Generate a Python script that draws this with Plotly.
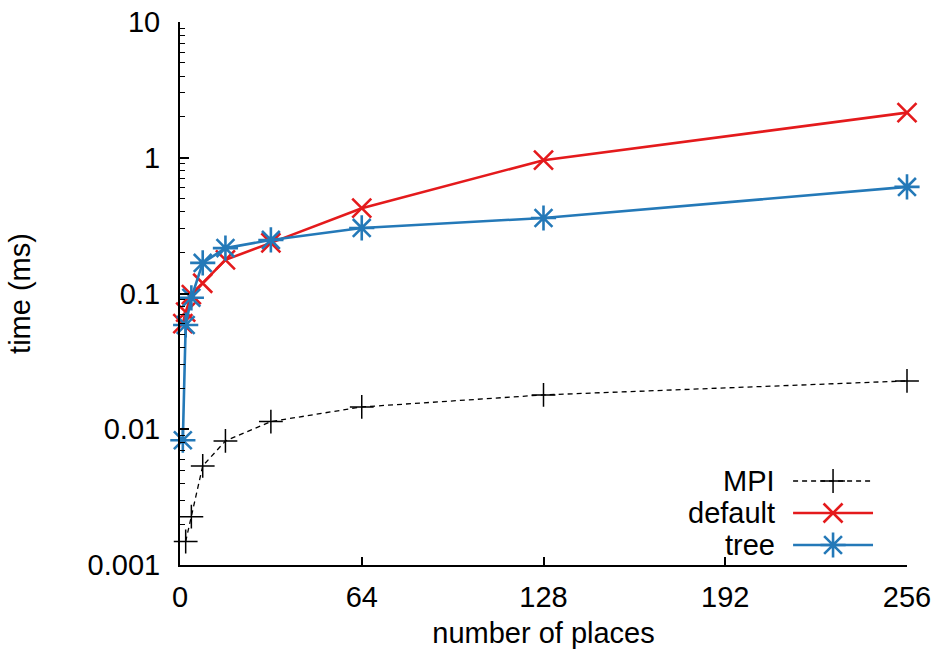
import plotly.graph_objects as go

# Communication time versus number of places
mpi_places = [2, 4, 8, 16, 32, 64, 128, 256]
mpi_time = [0.00149, 0.00227, 0.00537, 0.0082, 0.0114, 0.0146, 0.0179, 0.0227]

places = [1, 2, 4, 8, 16, 32, 64, 128, 256]
default_time = [0.060, 0.073, 0.098, 0.119, 0.177, 0.236, 0.425, 0.96, 2.15]
tree_time = [0.0083, 0.0586, 0.093, 0.168, 0.216, 0.248, 0.304, 0.36, 0.61]

x_ticks = [0, 64, 128, 192, 256]
y_ticks = [0.001, 0.01, 0.1, 1, 10]
y_tick_text = ["0.001", "0.01", "0.1", "1", "10"]
y_minor = [m * 10 ** e for e in range(-3, 1) for m in range(2, 10)]

RED = "#e41a1c"
BLUE = "#2479b8"
FONT = "Liberation Sans"
FS = 29

mpi_line = dict(color="black", width=1.3, dash="5px,4px")
mpi_mark = dict(symbol="cross-thin", size=17, line=dict(color="black", width=1.5))
def_line = dict(color=RED, width=2.6)
def_mark = dict(symbol="x-thin", size=19, color=RED, line=dict(color=RED, width=2.6))
tree_line = dict(color=BLUE, width=2.6)
tree_mark = dict(symbol="asterisk-open", size=21, color=BLUE,
                 line=dict(color=BLUE, width=2.6))

fig = go.Figure()

fig.add_trace(go.Scatter(x=mpi_places, y=mpi_time, mode="lines+markers", name="MPI",
                         line=mpi_line, marker=mpi_mark, cliponaxis=False))
fig.add_trace(go.Scatter(x=places, y=default_time, mode="lines+markers", name="default",
                         line=def_line, marker=def_mark, cliponaxis=False))
fig.add_trace(go.Scatter(x=places, y=tree_time, mode="lines+markers", name="tree",
                         line=tree_line, marker=tree_mark, cliponaxis=False))

# Key in the lower right: label on the left, line sample with marker on the right
key_rows = [("MPI", mpi_line, mpi_mark),
            ("default", def_line, def_mark),
            ("tree", tree_line, tree_mark)]
plot_l, plot_r, plot_t, plot_b = 179.5, 907.0, 22.0, 565.0
pw, ph = plot_r - plot_l, plot_b - plot_t
key_y_px = [481, 513, 545]
sx0, sx1, tx = 793, 873, 777
annotations = []
for (label, ln, mk), py in zip(key_rows, key_y_px):
    yy = (plot_b - py) / ph
    fx0, fx1 = (sx0 - plot_l) / pw, (sx1 - plot_l) / pw
    fig.add_trace(go.Scatter(
        x=[fx0, fx1], y=[yy, yy], mode="lines", line=ln,
        xaxis="x2", yaxis="y2", showlegend=False, hoverinfo="skip", cliponaxis=False,
    ))
    fig.add_trace(go.Scatter(
        x=[(fx0 + fx1) / 2], y=[yy], mode="markers", marker=mk,
        xaxis="x2", yaxis="y2", showlegend=False, hoverinfo="skip", cliponaxis=False,
    ))
    annotations.append(dict(
        text=label, x=(tx - plot_l) / pw, y=yy, xref="paper", yref="paper",
        xanchor="right", yanchor="middle", showarrow=False,
        font=dict(family=FONT, size=FS, color="black"),
    ))

fig.update_layout(
    width=940, height=657,
    margin=dict(l=plot_l, r=940 - plot_r, t=plot_t, b=657 - plot_b),
    paper_bgcolor="white", plot_bgcolor="white",
    showlegend=False,
    font=dict(family=FONT, size=FS, color="black"),
    annotations=annotations,
    xaxis=dict(
        range=[0, 256], tickvals=x_ticks, ticks="inside", ticklen=8, tickwidth=1.5,
        tickcolor="black", showline=True, linecolor="black", linewidth=2,
        showgrid=False, zeroline=False, mirror=False, automargin=False,
        ticklabelstandoff=5,
        title=dict(text="number of places", standoff=11,
                   font=dict(family=FONT, size=FS)),
        tickfont=dict(family=FONT, size=FS),
    ),
    yaxis=dict(
        type="log", range=[-3, 1], tickvals=y_ticks, ticktext=y_tick_text,
        ticks="inside", ticklen=9, tickwidth=1.5, tickcolor="black",
        minor=dict(tickvals=y_minor, ticks="inside", ticklen=5, tickwidth=1.2,
                   tickcolor="black", showgrid=False),
        showline=True, linecolor="black", linewidth=2,
        showgrid=False, zeroline=False, mirror=False, automargin=False,
        ticklabelstandoff=12,
        title=dict(text="time (ms)", standoff=48,
                   font=dict(family=FONT, size=FS)),
        tickfont=dict(family=FONT, size=FS),
    ),
    xaxis2=dict(domain=[0, 1], range=[0, 1], overlaying="x", visible=False,
                fixedrange=True),
    yaxis2=dict(domain=[0, 1], range=[0, 1], overlaying="y", visible=False,
                fixedrange=True),
)

fig.write_html("out.html")
